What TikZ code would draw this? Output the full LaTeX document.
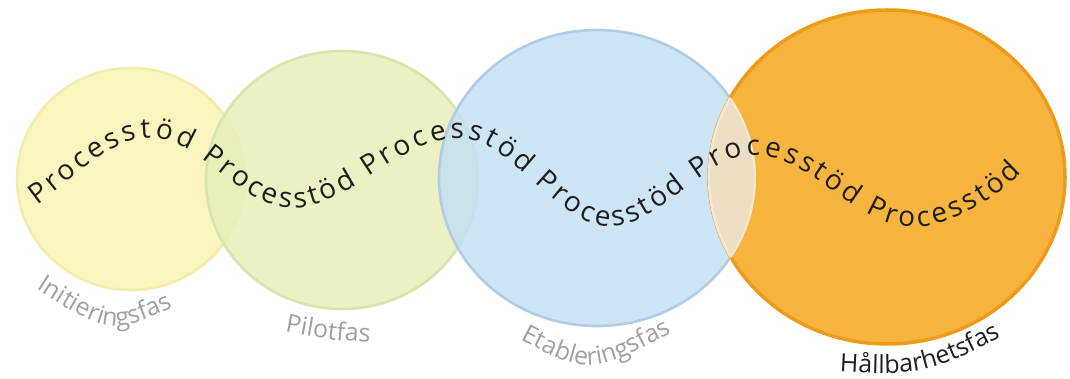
\documentclass[tikz,border=0pt]{standalone}
\usepackage{fontspec}
\setmainfont{Open Sans}
\usetikzlibrary{decorations.text}
\definecolor{yfill}{HTML}{FAF5BE}
\definecolor{yline}{HTML}{F2EDAC}
\definecolor{gfill}{HTML}{E8EEB9}
\definecolor{gline}{HTML}{D9E4AC}
\definecolor{bfill}{HTML}{C6E0F3}
\definecolor{bline}{HTML}{B3CCE6}
\definecolor{ofill}{HTML}{F7B53F}
\definecolor{oline}{HTML}{EE9A1B}
\definecolor{lens}{HTML}{EEDEC3}
\definecolor{lensline}{HTML}{F5E9D3}
\definecolor{labelgray}{HTML}{A0A0A0}
\definecolor{ink}{HTML}{1E1E1E}
\newcommand\wvfont{\fontsize{28}{33}\selectfont}
\newcommand\lblfont{\fontsize{25}{30}\selectfont}
\begin{document}
\begin{tikzpicture}[x=1pt,y=-1pt,
  wave/.style={decorate, decoration={text along path, text align=fit to path, text={|\wvfont\color{ink}|#1}}},
  lbl/.style n args={2}{decorate, decoration={text along path, text align=center, text={|\lblfont\color{#1}|#2}}},
  phase/.style={line width=2.6pt}]
\useasboundingbox (0,0) rectangle (1070,379);
% circles
\path[phase, fill=yfill, draw=yline] (131,179) ellipse [x radius=114, y radius=111];
\path[phase, fill=gfill, fill opacity=0.85, draw=gline] (342,180) ellipse [x radius=136, y radius=129];
\path[phase, fill=bfill, fill opacity=0.85, draw=bline] (597,178) ellipse [x radius=158, y radius=148];
\path[phase, line width=3.5pt, fill=ofill, draw=oline] (887,177) ellipse [x radius=178, y radius=167];
\begin{scope}
  \clip (597,178) ellipse [x radius=158, y radius=148];
  \path[phase, fill=lens, draw=lensline] (887,177) ellipse [x radius=178, y radius=167];
\end{scope}
\begin{scope}
  \clip (887,177) ellipse [x radius=178, y radius=167];
  \draw[lensline, line width=2pt] (597,178) ellipse [x radius=158, y radius=148];
\end{scope}
% wavy text
\path[wave={Processtöd Processtöd Processtöd Processtöd Processtöd Processtöd}]
  (37,205) .. controls (74,179) and (110,138) .. (150,138)
  .. controls (202,138) and (240,208) .. (292,208)
  .. controls (350,208) and (400,138) .. (458,138)
  .. controls (513,138) and (555,226) .. (610,226)
  .. controls (662,226) and (703,155) .. (755,155)
  .. controls (812,155) and (855,227) .. (912,227)
  .. controls (955,227) and (1005,192) .. (1022,172);
% labels
\path[lbl={labelgray}{Initieringsfas}] (24,281) .. controls (111,337) .. (186,301);
\path[lbl={labelgray}{Pilotfas}] (280,331) .. controls (328,340) .. (375,343);
\path[lbl={labelgray}{Etableringsfas}] (508,333) .. controls (590,377) .. (684,326);
\path[lbl={ink}{Hållbarhetsfas}] (828,371) .. controls (924,376) .. (1012,332);
\end{tikzpicture}
\end{document}
